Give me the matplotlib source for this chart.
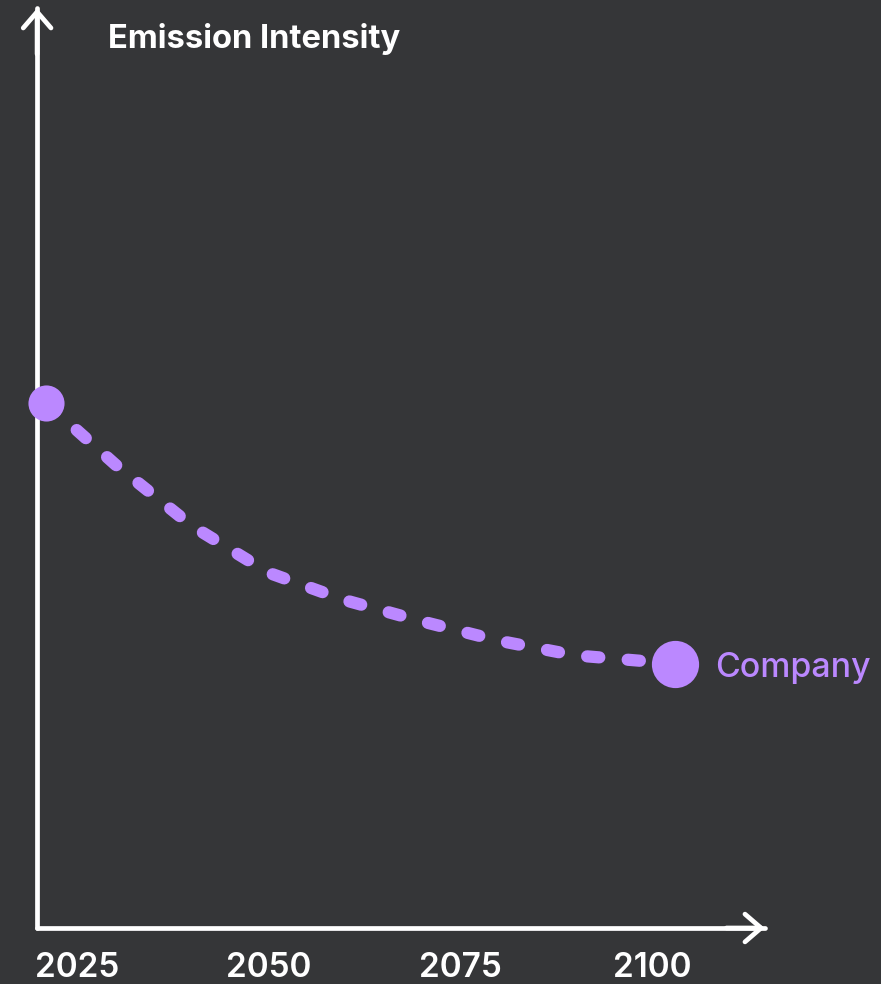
import matplotlib.pyplot as plt

# Data
years = [2021, 2030, 2040, 2050, 2060, 2070, 2080, 2090, 2103]
intensity = [57.2, 50.5, 43.8, 38.7, 35.7, 33.4, 31.3, 29.7, 28.8]
tick_years = [2025, 2050, 2075, 2100]
tick_labels = ["2025", "2050", "2075", "2100"]
series_name = "Company"
y_title = "Emission Intensity"

bg = "#353638"
purple = "#bb88ff"
white = "#ffffff"

fig = plt.figure(figsize=(8.81, 9.84), dpi=100, facecolor=bg)
ax = fig.add_axes([0, 0, 1, 1])
ax.set_facecolor(bg)
ax.set_xlim(2014.96, 2129.87)
ax.set_ylim(-6.1, 101.1)
ax.axis("off")

# axes with open arrow heads
x0, y0 = 2019.8, 0.0
x1, y1 = 2114.7, 100.2
arrow = dict(arrowstyle="->, head_length=0.58, head_width=0.5",
             color=white, lw=3.4, mutation_scale=20,
             shrinkA=0, shrinkB=0, capstyle="round", joinstyle="round")
ax.plot([x0, x0], [y0, y1], color=white, lw=3.4, solid_capstyle="round", zorder=2)
ax.plot([x0, x1], [y0, y0], color=white, lw=3.4, solid_capstyle="round", zorder=2)
ax.annotate("", xy=(x0, y1), xytext=(x0, y1 - 5), arrowprops=arrow)
ax.annotate("", xy=(x1, y0), xytext=(x1 - 5, y0), arrowprops=arrow)

# dashed trajectory
ax.plot(years, intensity, color=purple, lw=8.8, linestyle=(0, (1.0, 2.33)),
        dash_capstyle="round", zorder=3)
ax.plot(years[0], intensity[0], "o", color=purple, ms=26, mec="none", zorder=4)
ax.plot(years[-1], intensity[-1], "o", color=purple, ms=34, mec="none", zorder=4)

ax.text(years[-1] + 5.2, intensity[-1] - 0.5, series_name, color=purple,
        fontsize=24.4, family="Inter", fontweight="medium", ha="left", va="center")

ax.text(2029.05, 96.9, y_title, color=white, fontsize=23.6, family="Inter",
        fontweight="bold", ha="left", va="center")

for yr, lab in zip(tick_years, tick_labels):
    ax.text(yr, -5.3, lab, color=white, fontsize=24, family="Inter",
            fontweight="semibold", ha="center", va="baseline")

fig.savefig("out.png", dpi=100, facecolor=bg)
